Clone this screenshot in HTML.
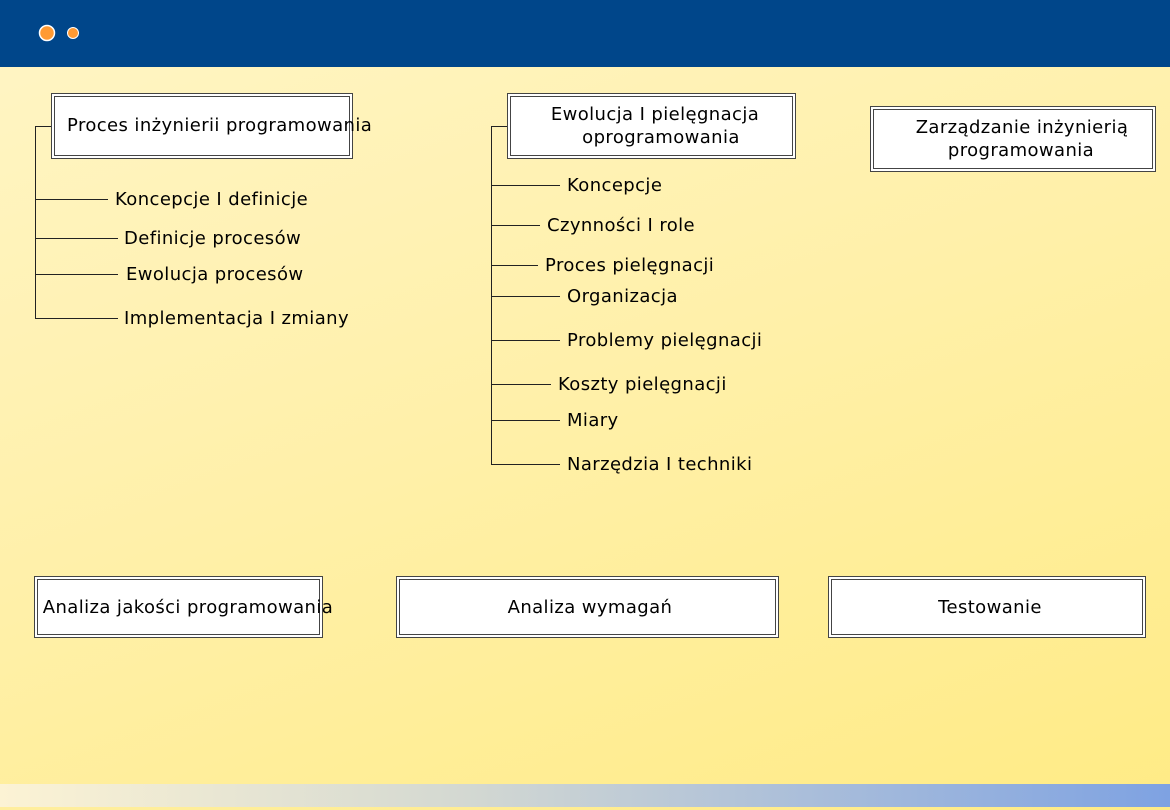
<!DOCTYPE html>
<html><head><meta charset="utf-8"><style>
html,body{margin:0;padding:0;}
body{width:1170px;height:810px;overflow:hidden;position:relative;background:linear-gradient(160deg,#fff5c6 0%,#fff0a8 50%,#ffeb85 100%);}
svg{position:absolute;left:0;top:0;}
text{font-family:"DejaVu Sans","Liberation Sans",sans-serif;font-size:18px;letter-spacing:0.4px;fill:#000;}
</style></head><body>
<svg width="1170" height="810" viewBox="0 0 1170 810">
<defs>
<linearGradient id="bb" x1="0" y1="0" x2="1" y2="0">
<stop offset="0" stop-color="#fcf3d4"/><stop offset="0.4" stop-color="#d3d8d2"/><stop offset="1" stop-color="#7ea2e2"/>
</linearGradient>
</defs>
<rect x="0" y="0" width="1170" height="67" fill="#00468a"/>
<circle cx="47" cy="33" r="7.5" fill="#ff9a33" stroke="#fff" stroke-width="1.5"/>
<circle cx="73" cy="33" r="5.5" fill="#ff9a33" stroke="#fff" stroke-width="1"/>
<rect x="0" y="784" width="1170" height="23" fill="url(#bb)"/>

<g fill="#fff" stroke="#444" stroke-width="1">
<rect x="51.5" y="93.5" width="301" height="65"/><rect x="54.5" y="96.5" width="295" height="59"/>
<rect x="507.5" y="93.5" width="288" height="65"/><rect x="510.5" y="96.5" width="282" height="59"/>
<rect x="870.5" y="106.5" width="285" height="65"/><rect x="873.5" y="109.5" width="279" height="59"/>
<rect x="34.5" y="576.5" width="288" height="61"/><rect x="37.5" y="579.5" width="282" height="55"/>
<rect x="396.5" y="576.5" width="382" height="61"/><rect x="399.5" y="579.5" width="376" height="55"/>
<rect x="828.5" y="576.5" width="317" height="61"/><rect x="831.5" y="579.5" width="311" height="55"/>
</g>

<g stroke="#222" stroke-width="1" fill="none">
<path d="M51 126.5H35.5V318.5H118"/>
<path d="M35 199.5H108M35 238.5H118M35 274.5H118"/>
<path d="M507 126.5H491.5V464.5H560"/>
<path d="M491 185.5H560M491 225.5H540M491 265.5H538M491 296.5H560M491 340.5H560M491 384.5H551M491 420.5H560"/>
</g>

<text x="67" y="131">Proces inżynierii programowania</text>
<text x="655" y="120" text-anchor="middle">Ewolucja I pielęgnacja</text>
<text x="661" y="143" text-anchor="middle">oprogramowania</text>
<text x="1022" y="133" text-anchor="middle">Zarządzanie inżynierią</text>
<text x="1021" y="156" text-anchor="middle">programowania</text>

<text x="115" y="205">Koncepcje I definicje</text>
<text x="124" y="244">Definicje procesów</text>
<text x="126" y="280">Ewolucja procesów</text>
<text x="124" y="324">Implementacja I zmiany</text>

<text x="567" y="191">Koncepcje</text>
<text x="547" y="231">Czynności I role</text>
<text x="545" y="271">Proces pielęgnacji</text>
<text x="567" y="302">Organizacja</text>
<text x="567" y="346">Problemy pielęgnacji</text>
<text x="558" y="390">Koszty pielęgnacji</text>
<text x="567" y="426">Miary</text>
<text x="567" y="470">Narzędzia I techniki</text>

<text x="188" y="613" text-anchor="middle">Analiza jakości programowania</text>
<text x="590" y="613" text-anchor="middle">Analiza wymagań</text>
<text x="990" y="613" text-anchor="middle">Testowanie</text>
</svg>
</body></html>
